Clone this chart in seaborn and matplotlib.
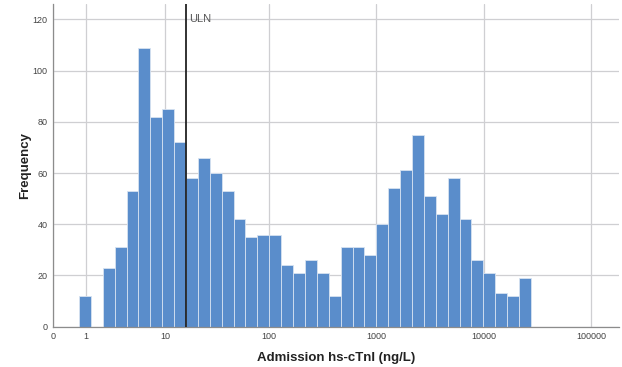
import numpy as np
import pandas as pd
import matplotlib
matplotlib.use("Agg")
import matplotlib.pyplot as plt
import seaborn as sns

# Frequency per bin (bins equally spaced on a log10(x+1) axis)
counts = [12, 0, 23, 31, 53, 109, 82, 85, 72, 58, 66, 60, 53, 42, 35, 36, 36,
          24, 21, 26, 21, 12, 31, 31, 28, 40, 54, 61, 75, 51, 44, 58, 42, 26,
          21, 13, 12, 19]
tick_values = [0, 1, 10, 100, 1000, 10000, 100000]
tick_labels = ["0", "1", "10", "100", "1000", "10000", "100000"]
y_ticks = [0, 20, 40, 60, 80, 100, 120]
uln_value = 16  # ng/L

# bin geometry on the transformed axis t = log10(x + 1)
first_edge_t = 0.239
bin_width_t = 0.1105

def fwd(x):
    return np.log10(np.asarray(x, dtype=float) + 1)

edges_t = first_edge_t + bin_width_t * np.arange(len(counts) + 1)
centers_t = (edges_t[:-1] + edges_t[1:]) / 2
df = pd.DataFrame({"t": centers_t, "count": np.asarray(counts, dtype=float)})

sns.set_theme(style="white")
plt.rcParams["font.family"] = ["Liberation Sans", "DejaVu Sans"]

fig = plt.figure(figsize=(6.22, 3.67), dpi=100)
ax = fig.add_axes([53.3 / 622, 1 - 326.7 / 367, (619 - 53.3) / 622, (326.7 - 4) / 367])

sns.histplot(data=df, x="t", weights="count", bins=list(edges_t), ax=ax,
             color="#5a8dcb", alpha=1, edgecolor="#d6e2f1", linewidth=0.6,
             zorder=2)

ax.set_xlim(0, 5.257)
ax.set_ylim(0, 126)
ax.set_xticks(fwd(tick_values))
ax.set_xticklabels(tick_labels)
ax.set_yticks(y_ticks)

ax.grid(True, color="#cfcfd2", linewidth=0.9, zorder=0)
ax.set_axisbelow(True)
for s in ["top", "right"]:
    ax.spines[s].set_visible(False)
for s in ["left", "bottom"]:
    ax.spines[s].set_color("#8c8c8c")
    ax.spines[s].set_linewidth(0.9)

ax.tick_params(axis="both", length=0, labelsize=6.5, colors="#444444", pad=4)

uln_t = float(fwd(uln_value))
ax.axvline(uln_t, color="#222222", linewidth=1.3, zorder=3)
ax.text(uln_t + 0.03, 120, "ULN", fontsize=8, color="#555555", va="center",
        ha="left")

ax.set_xlabel("Admission hs-cTnI (ng/L)", fontsize=9.5, fontweight="bold",
              color="#222222", labelpad=8)
ax.set_ylabel("Frequency", fontsize=9.5, fontweight="bold", color="#222222",
              labelpad=1)

fig.savefig("out.png", dpi=100)
